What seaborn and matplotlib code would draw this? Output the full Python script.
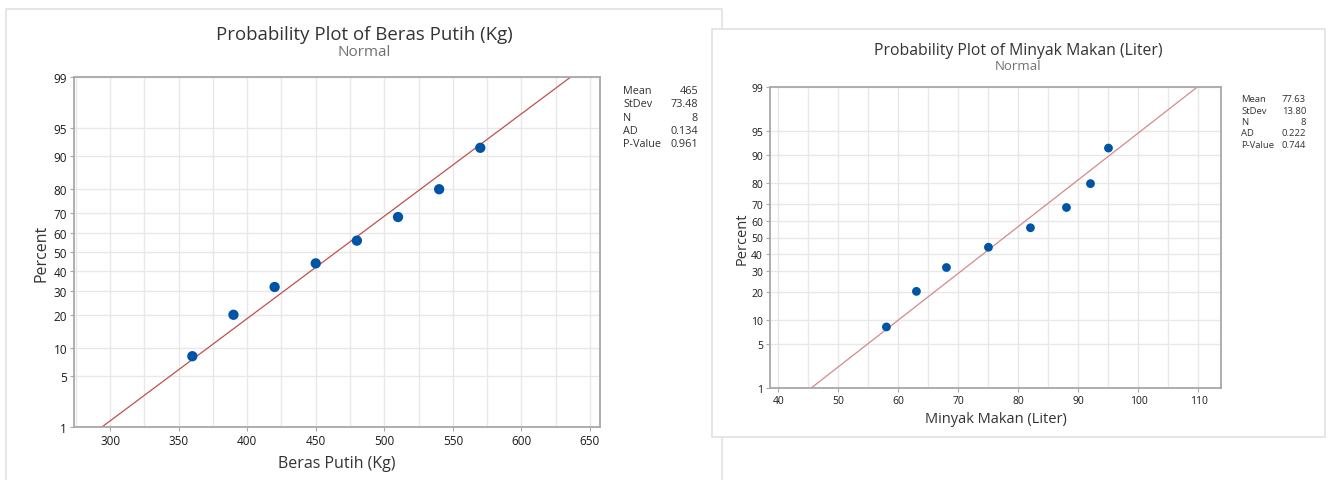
import matplotlib
matplotlib.use('Agg')
import matplotlib.pyplot as plt
import seaborn as sns
import pandas as pd
from statistics import NormalDist
from matplotlib.patches import Rectangle

# --- data ---
beras_values = [360, 390, 420, 450, 480, 510, 540, 570]
minyak_values = [58, 63, 68, 75, 82, 88, 92, 95]
plot_percent = [8.3, 20.2, 32.1, 44.0, 56.0, 67.9, 79.8, 91.7]

beras_stats = {"Mean": "465", "StDev": "73.48", "N": "8", "AD": "0.134", "P-Value": "0.961"}
minyak_stats = {"Mean": "77.63", "StDev": "13.80", "N": "8", "AD": "0.222", "P-Value": "0.744"}
beras_fit = (465, 73.48)
minyak_fit = (77.63, 13.80)

percent_ticks = [1, 5, 10, 20, 30, 40, 50, 60, 70, 80, 90, 95, 99]
beras_xticks = [300, 350, 400, 450, 500, 550, 600, 650]
minyak_xticks = [40, 50, 60, 70, 80, 90, 100, 110]

W, H = 1329, 481
nd = NormalDist()


def z(p):
    return nd.inv_cdf(p / 100.0)


def fx(px):
    return px / W


def fy(py):
    return 1 - py / H


sns.set_theme(style="white")
plt.rcParams['font.family'] = ['Open Sans', 'DejaVu Sans']

fig = plt.figure(figsize=(W / 100, H / 100), dpi=100)

# panel frames (right panel overlaps the left one)
fig.patches.append(Rectangle((fx(6), fy(490)), fx(722) - fx(6), fy(10) - fy(490),
                             transform=fig.transFigure, facecolor='white',
                             edgecolor='#e2e2e2', lw=1.2, zorder=-3))
fig.patches.append(Rectangle((fx(712), fy(438)), fx(1325) - fx(712), fy(30) - fy(438),
                             transform=fig.transFigure, facecolor='white',
                             edgecolor='#e2e2e2', lw=1.2, zorder=-2))


def prob_plot(rect, values, fit, xticks, grid_step, xlim, title, xlabel, stats,
              stat_x, stat_y, stat_dy, line_color, sizes):
    ax = fig.add_axes(rect)
    df = pd.DataFrame({"x": values, "z": [z(p) for p in plot_percent]})
    mean, sd = fit
    zlo, zhi = z(1), z(99)
    line_df = pd.DataFrame({"x": [mean + sd * zlo, mean + sd * zhi], "z": [zlo, zhi]})

    # grid
    g = xticks[0] - grid_step
    while g <= xlim[1]:
        if g >= xlim[0]:
            ax.axvline(g, color='#e8e8e8', lw=1.0, zorder=0)
        g += grid_step
    for p in percent_ticks:
        ax.axhline(z(p), color='#e8e8e8', lw=1.0, zorder=0)

    sns.lineplot(data=line_df, x="x", y="z", ax=ax, color=line_color, lw=0.9, zorder=2)
    sns.scatterplot(data=df, x="x", y="z", ax=ax, color='#0054a6', s=sizes['marker'],
                    edgecolor='none', zorder=3)

    ax.set_xlim(*xlim)
    ax.set_ylim(zlo, zhi)
    ax.set_xticks(xticks)
    ax.set_xticklabels([str(t) for t in xticks])
    ax.set_yticks([z(p) for p in percent_ticks])
    ax.set_yticklabels([str(p) for p in percent_ticks])
    ax.tick_params(axis='both', labelsize=sizes['tick'], colors='#a8a8a8', labelcolor='#1a1a1a',
                   length=3, width=0.8, pad=2, direction='out', left=True, bottom=True)
    for lab in ax.get_xticklabels() + ax.get_yticklabels():
        lab.set_fontweight('medium')
    for sp in ax.spines.values():
        sp.set_color('#a8a8a8')
        sp.set_linewidth(1.3)

    ax.set_xlabel(xlabel, fontsize=sizes['label'], color='#333333')
    ax.set_ylabel("Percent", fontsize=sizes['label'], color='#333333')
    ax.xaxis.label.set_va('baseline')
    ax.yaxis.label.set_va('baseline')
    ax.xaxis.set_label_coords(0.5, sizes['xlab_y'])
    ax.yaxis.set_label_coords(sizes['ylab_x'], 0.5)

    cx = sizes['title_x']
    fig.text(fx(cx), fy(sizes['title_base']), title, ha='center', va='baseline',
             fontsize=sizes['title'], color='#333333', fontweight='medium')
    fig.text(fx(cx), fy(sizes['sub_base']), "Normal", ha='center', va='baseline',
             fontsize=sizes['sub'], color='#707070')

    for i, (k, v) in enumerate(stats.items()):
        y = stat_y + i * stat_dy
        fig.text(fx(stat_x[0]), fy(y), k, ha='left', va='baseline',
                 fontsize=sizes['stat'], color='#333333')
        fig.text(fx(stat_x[1]), fy(y), v, ha='right', va='baseline',
                 fontsize=sizes['stat'], color='#333333')
    return ax


# left plot
prob_plot([fx(74), fy(428), fx(600) - fx(74), fy(78) - fy(428)],
          beras_values, beras_fit, beras_xticks, 25, (273.7, 657.3),
          "Probability Plot of Beras Putih (Kg)", "Beras Putih (Kg)", beras_stats,
          (623, 698), 94, 13.3, '#c0504d',
          dict(marker=55, tick=8.5, label=11.5, title=13.4, sub=11, stat=7.8,
               title_x=364, title_base=39.5, sub_base=56.5,
               xlab_y=-0.113, ylab_x=-0.055))

# right plot
prob_plot([fx(770), fy(388.7), fx(1221.3) - fx(770), fy(88.3) - fy(388.7)],
          minyak_values, minyak_fit, minyak_xticks, 5, (38.6, 113.8),
          "Probability Plot of Minyak Makan (Liter)", "Minyak Makan (Liter)", minyak_stats,
          (1241, 1306), 102.3, 11.4, '#d48a8a',
          dict(marker=40, tick=7.5, label=10.5, title=11.3, sub=9.5, stat=6.8,
               title_x=1018.5, title_base=55.3, sub_base=70,
               xlab_y=-0.115, ylab_x=-0.053))

fig.savefig("out.png", dpi=100)
